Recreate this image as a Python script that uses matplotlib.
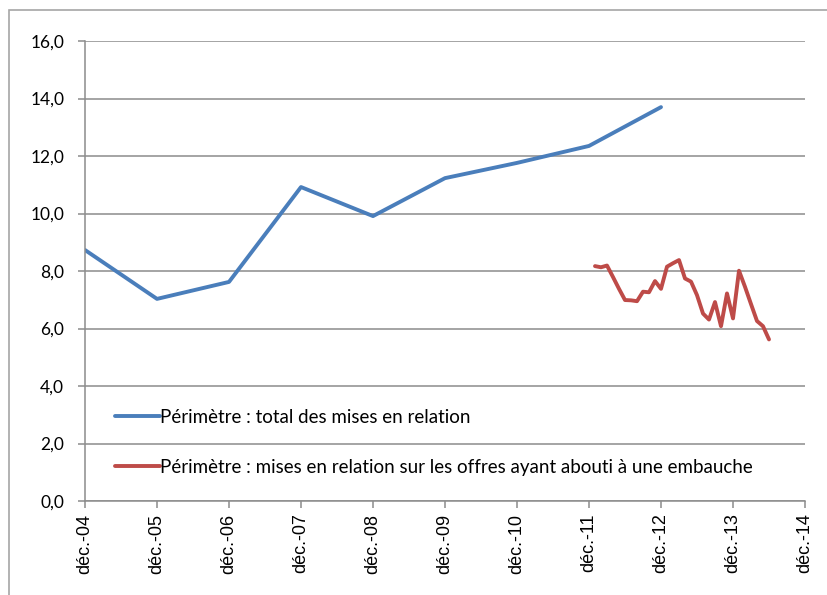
import matplotlib
matplotlib.use("Agg")
import matplotlib.pyplot as plt
from matplotlib.patches import Rectangle
import numpy as np

tick_labels = ["déc.-04", "déc.-05", "déc.-06", "déc.-07", "déc.-08", "déc.-09",
               "déc.-10", "déc.-11", "déc.-12", "déc.-13", "déc.-14"]

# Blue series: yearly values at each December (month index from déc.-04)
blue_months = [0, 12, 24, 36, 48, 60, 72, 84, 96]
blue_values = [8.73, 7.03, 7.62, 10.92, 9.91, 11.23, 11.76, 12.35, 13.70]

# Red series: monthly values Jan-12 .. Jun-14
red_months = list(range(85, 115))
red_values = [8.17, 8.13, 8.19, 7.79, 7.38, 6.99, 6.98, 6.95, 7.28, 7.26,
              7.65, 7.38, 8.15, 8.27, 8.38, 7.74, 7.63, 7.16, 6.52, 6.31,
              6.92, 6.08, 7.22, 6.35, 8.01, 7.45, 6.85, 6.26, 6.08, 5.62]

label_blue = "Périmètre : total des mises en relation"
label_red = "Périmètre : mises en relation sur les offres ayant abouti à une embauche"

fig = plt.figure(figsize=(8.27, 5.95), dpi=100)
W, H = 827, 595
ax = fig.add_axes([85 / W, 1 - 501 / H, (805 - 85) / W, (501 - 41) / H])

# outer frame
fig.patches.append(Rectangle((9 / W, -0.05), 1.1, 1 - 10 / H + 0.05, transform=fig.transFigure,
                             fill=False, edgecolor="#a6a6a6", linewidth=1.2, zorder=0))

ax.plot(blue_months, blue_values, color="#4A7EBB", linewidth=2.8, label=label_blue,
        solid_capstyle="round")
ax.plot(red_months, red_values, color="#BE4B48", linewidth=2.8, label=label_red,
        solid_capstyle="round", solid_joinstyle="round")

ax.set_xlim(0, 120)
ax.set_ylim(0, 16)
ax.set_yticks(np.arange(0, 17, 2))
ax.set_yticklabels([f"{v:.1f}".replace(".", ",") for v in np.arange(0, 17, 2)],
                   fontfamily="Lato", fontsize=12.5)
ax.set_xticks(np.arange(0, 121, 12))
ax.set_xticklabels(tick_labels, rotation=90, fontfamily="Liberation Sans", fontsize=13)

ax.grid(axis="y", color="#8c8c8c", linewidth=1.1)
ax.set_axisbelow(True)
for s in ["top", "right"]:
    ax.spines[s].set_visible(False)
for s in ["left", "bottom"]:
    ax.spines[s].set_color("#8c8c8c")
    ax.spines[s].set_linewidth(1.1)
ax.tick_params(axis="both", color="#8c8c8c", length=5, width=1.1, direction="out")
ax.tick_params(axis="y", pad=10)
ax.tick_params(axis="x", pad=4)

leg = ax.legend(loc="upper left", bbox_to_anchor=(0.042, 0.2), frameon=False,
                prop={"family": "Lato", "size": 13.5}, labelspacing=1.75,
                handlelength=2.4, handletextpad=0.0, borderaxespad=0, borderpad=0)

fig.savefig("out.png", dpi=100)
